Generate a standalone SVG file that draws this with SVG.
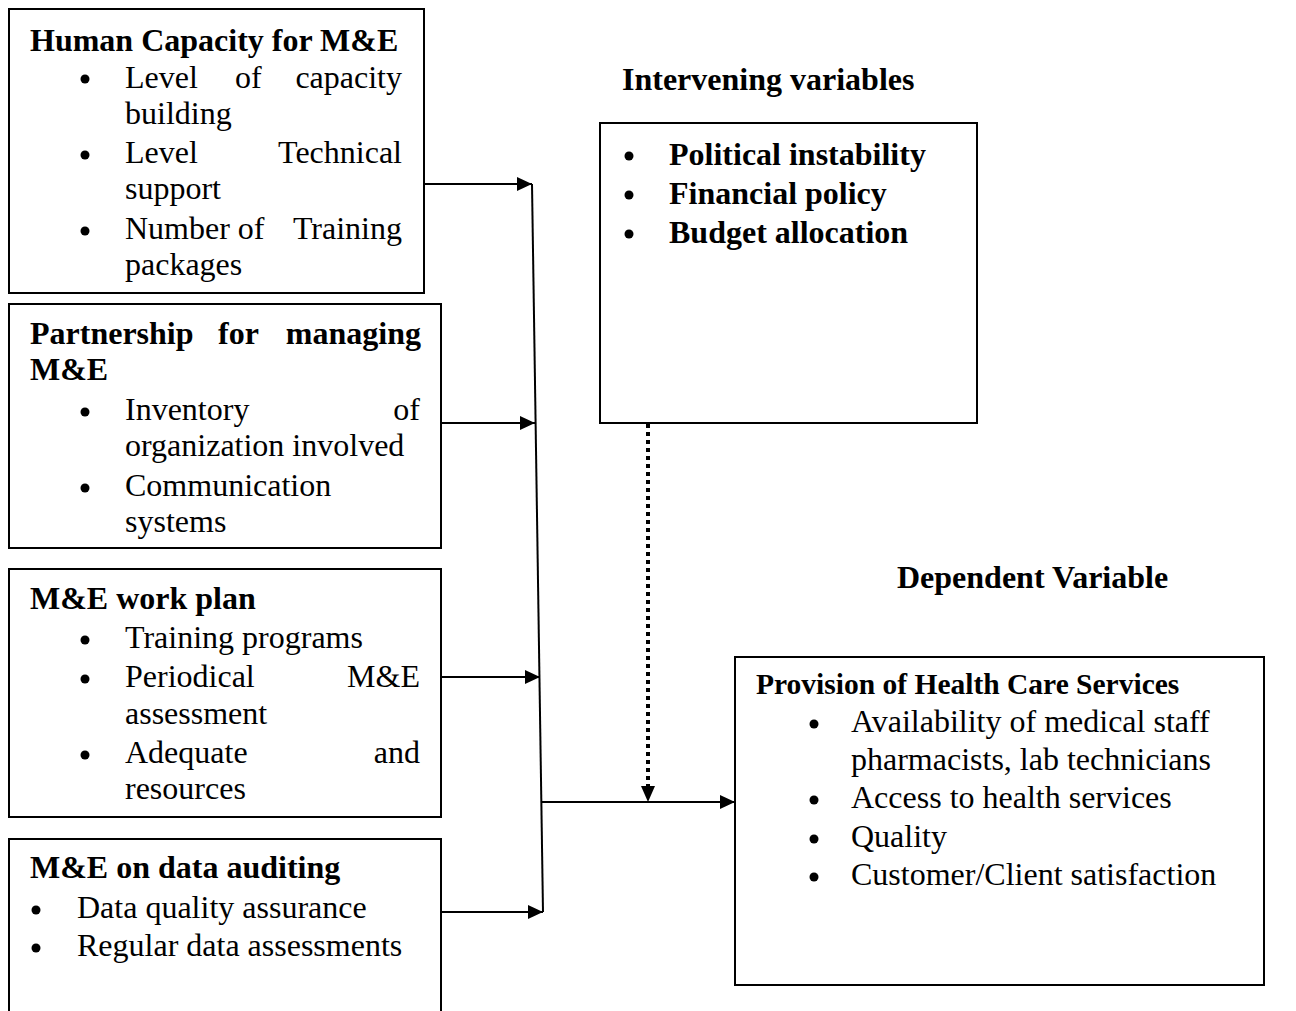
<svg xmlns="http://www.w3.org/2000/svg" width="1296" height="1011" viewBox="0 0 1296 1011">
<defs>
<style>
text{font-family:"Liberation Serif","Times New Roman",serif;font-size:32px;fill:#000}
.b{font-weight:bold}
.h{font-weight:bold;font-size:29.5px}
.box{fill:#fff;stroke:#000;stroke-width:2}
.ln{fill:none;stroke:#000;stroke-width:2}
.dot{fill:none;stroke:#000;stroke-width:4;stroke-dasharray:4 4}
.e{text-anchor:end}
</style>
<marker id="ah" viewBox="0 0 15 14" refX="15" refY="7" markerWidth="15" markerHeight="14" markerUnits="userSpaceOnUse" orient="auto">
<path d="M0,0 L15,7 L0,14 Z" fill="#000"/>
</marker>
<circle id="bl" r="4.5" fill="#000"/>
</defs>
<rect width="1296" height="1011" fill="#fff"/>

<g id="connectors">
<line class="ln" x1="532" y1="184" x2="543" y2="912"/>
<line class="ln" x1="424" y1="184" x2="532" y2="184" marker-end="url(#ah)"/>
<line class="ln" x1="441" y1="423" x2="535" y2="423" marker-end="url(#ah)"/>
<line class="ln" x1="441" y1="677" x2="540" y2="677" marker-end="url(#ah)"/>
<line class="ln" x1="441" y1="912" x2="543" y2="912" marker-end="url(#ah)"/>
<line class="ln" x1="542" y1="802" x2="735" y2="802" marker-end="url(#ah)"/>
<line class="dot" x1="648" y1="424" x2="648" y2="788"/>
<path d="M641,786 L648,802 L655,786 Z" fill="#000"/>
</g>

<g id="human-capacity">
<rect class="box" x="9" y="9" width="415" height="284"/>
<text class="b" x="30" y="51">Human Capacity for M&amp;E</text>
<use href="#bl" x="85" y="79"/><text x="125" y="88">Level</text><text x="235" y="88">of</text><text class="e" x="402" y="88">capacity</text>
<text x="125" y="124">building</text>
<use href="#bl" x="85" y="155"/><text x="125" y="163">Level</text><text class="e" x="402" y="163">Technical</text>
<text x="125" y="199">support</text>
<use href="#bl" x="85" y="231"/><text x="125" y="239">Number of</text><text class="e" x="402" y="239">Training</text>
<text x="125" y="275">packages</text>
</g>

<g id="partnership">
<rect class="box" x="9" y="304" width="432" height="244"/>
<text class="b" x="30" y="344">Partnership</text><text class="b" x="218" y="344">for</text><text class="b e" x="421" y="344">managing</text>
<text class="b" x="30" y="380">M&amp;E</text>
<use href="#bl" x="85" y="412"/><text x="125" y="420">Inventory</text><text class="e" x="420" y="420">of</text>
<text x="125" y="456">organization involved</text>
<use href="#bl" x="85" y="488"/><text x="125" y="496">Communication</text>
<text x="125" y="532">systems</text>
</g>

<g id="work-plan">
<rect class="box" x="9" y="569" width="432" height="248"/>
<text class="b" x="30" y="609">M&amp;E work plan</text>
<use href="#bl" x="85" y="640"/><text x="125" y="648">Training programs</text>
<use href="#bl" x="85" y="679"/><text x="125" y="687">Periodical</text><text class="e" x="420" y="687">M&amp;E</text>
<text x="125" y="724">assessment</text>
<use href="#bl" x="85" y="755"/><text x="125" y="763">Adequate</text><text class="e" x="420" y="763">and</text>
<text x="125" y="799">resources</text>
</g>

<g id="data-auditing">
<rect class="box" x="9" y="839" width="432" height="180"/>
<text class="b" x="30" y="878">M&amp;E on data auditing</text>
<use href="#bl" x="36" y="910"/><text x="77" y="918">Data quality assurance</text>
<use href="#bl" x="36" y="948"/><text x="77" y="956">Regular data assessments</text>
</g>

<g id="intervening">
<text class="b" x="622" y="90">Intervening variables</text>
<rect class="box" x="600" y="123" width="377" height="300"/>
<use href="#bl" x="629" y="156"/><text class="b" x="669" y="165">Political instability</text>
<use href="#bl" x="629" y="195"/><text class="b" x="669" y="204">Financial policy</text>
<use href="#bl" x="629" y="234"/><text class="b" x="669" y="243">Budget allocation</text>
</g>

<g id="dependent">
<text class="b" x="897" y="588">Dependent Variable</text>
<rect class="box" x="735" y="657" width="529" height="328"/>
<text class="h" x="756" y="694">Provision of Health Care Services</text>
<use href="#bl" x="814" y="724"/><text x="851" y="732">Availability of medical staff</text>
<text x="851" y="770">pharmacists, lab technicians</text>
<use href="#bl" x="814" y="800"/><text x="851" y="808">Access to health services</text>
<use href="#bl" x="814" y="839"/><text x="851" y="847">Quality</text>
<use href="#bl" x="814" y="877"/><text x="851" y="885">Customer/Client satisfaction</text>
</g>
</svg>
